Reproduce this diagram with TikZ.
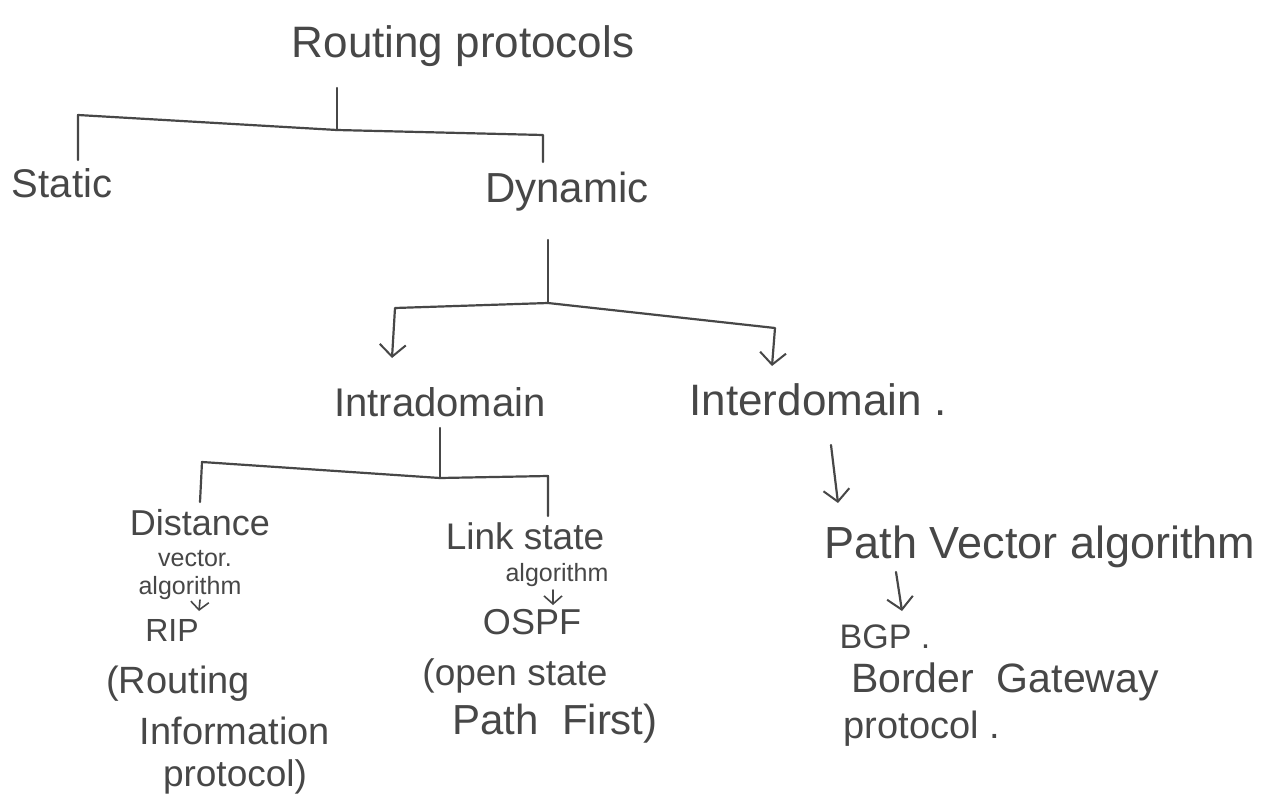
\documentclass[tikz,border=0pt]{standalone}
\usepackage{fontspec}
\setmainfont{Liberation Sans}
\usetikzlibrary{arrows.meta}
\definecolor{ink}{HTML}{474747}
\begin{document}
\begin{tikzpicture}[x=1pt,y=-1pt,
  hw/.style={text=ink, inner sep=0pt, anchor=center, font=\fontsize{40}{44}\selectfont},
  sm/.style={hw, font=\fontsize{25}{28}\selectfont},
  link/.style={draw=ink, line width=2.2pt, line cap=round, line join=round},
  arr/.style={link, -{Straight Barb[length=12pt,width=26pt,line width=2pt]}},
  tinyarr/.style={link, line width=1.6pt, -{Straight Barb[length=8pt,width=18pt,line width=1.6pt]}}]
\useasboundingbox (0,0) rectangle (1270,803);
\fill[white] (0,0) rectangle (1270,803);

% labels
\node[hw, font=\fontsize{44}{48}\selectfont] (root) at (463,46) {Routing protocols};
\node[hw] (static) at (62,183) {Static};
\node[hw, font=\fontsize{42}{46}\selectfont] (dynamic) at (567,192) {Dynamic};
\node[hw] (intra) at (440,402) {Intradomain};
\node[hw, font=\fontsize{44}{48}\selectfont] (inter) at (818,400) {Interdomain .};

\node[hw, font=\fontsize{36}{40}\selectfont] (dist) at (200,523) {Distance};
\node[sm] (vec) at (195,559) {vector.};
\node[sm] (algo1) at (190,588) {algorithm};
\node[hw, font=\fontsize{32}{36}\selectfont] (rip) at (172,630) {RIP};
\node[hw, font=\fontsize{38}{42}\selectfont] (rout) at (178,684) {(Routing};
\node[hw, font=\fontsize{38}{42}\selectfont] (info) at (235,731) {Information};
\node[hw, font=\fontsize{37}{41}\selectfont] (proto1) at (235,777) {protocol)};

\node[hw, font=\fontsize{37}{41}\selectfont] (link) at (525,536) {Link state};
\node[sm] (algo2) at (557,575) {algorithm};
\node[hw, font=\fontsize{36}{40}\selectfont] (ospf) at (532,622) {OSPF};
\node[hw, font=\fontsize{37}{41}\selectfont] (open) at (515,676) {(open state};
\node[hw, font=\fontsize{42}{46}\selectfont] (pathfirst) at (555,724) {Path~~First)};

\node[hw, font=\fontsize{45}{49}\selectfont] (pva) at (1040,547) {Path Vector algorithm};
\node[hw, font=\fontsize{34}{38}\selectfont] (bgp) at (885,637) {BGP .};
\node[hw, font=\fontsize{41}{45}\selectfont] (border) at (1005,682) {Border~~Gateway};
\node[hw, font=\fontsize{38}{42}\selectfont] (proto2) at (922,729) {protocol .};

% junction coordinates
\coordinate (t1) at (337,88);
\coordinate (j1) at (337,130);
\coordinate (l1) at (78,115);
\coordinate (r1) at (543,135);
\coordinate (sl) at (78,160);
\coordinate (dr) at (543,162);

\coordinate (t2) at (548,240);
\coordinate (j2) at (548,303);
\coordinate (l2) at (395,308);
\coordinate (r2) at (775,328);
\coordinate (ia) at (392,358);
\coordinate (ea) at (772,366);

\coordinate (t3) at (440,428);
\coordinate (j3) at (440,478);
\coordinate (l3) at (202,462);
\coordinate (r3) at (548,476);
\coordinate (dl) at (200,502);
\coordinate (lr) at (548,516);

\coordinate (t4) at (831,445);
\coordinate (pa) at (838,503);
\coordinate (t5) at (896,572);
\coordinate (ba) at (902,611);
\coordinate (t6) at (200,600);
\coordinate (ra) at (199,611);
\coordinate (t7) at (553,590);
\coordinate (oa) at (553,605);

% connectors
\draw[link] (t1) -- (j1);
\draw[link] (sl) -- (l1) -- (j1) -- (r1) -- (dr);
\draw[link] (t2) -- (j2);
\draw[arr] (j2) -- (l2) -- (ia);
\draw[arr] (j2) -- (r2) -- (ea);
\draw[link] (t3) -- (j3);
\draw[link] (dl) -- (l3) -- (j3) -- (r3) -- (lr);
\draw[arr] (t4) -- (pa);
\draw[arr] (t5) -- (ba);
\draw[tinyarr] (t6) -- (ra);
\draw[tinyarr] (t7) -- (oa);
\end{tikzpicture}
\end{document}
